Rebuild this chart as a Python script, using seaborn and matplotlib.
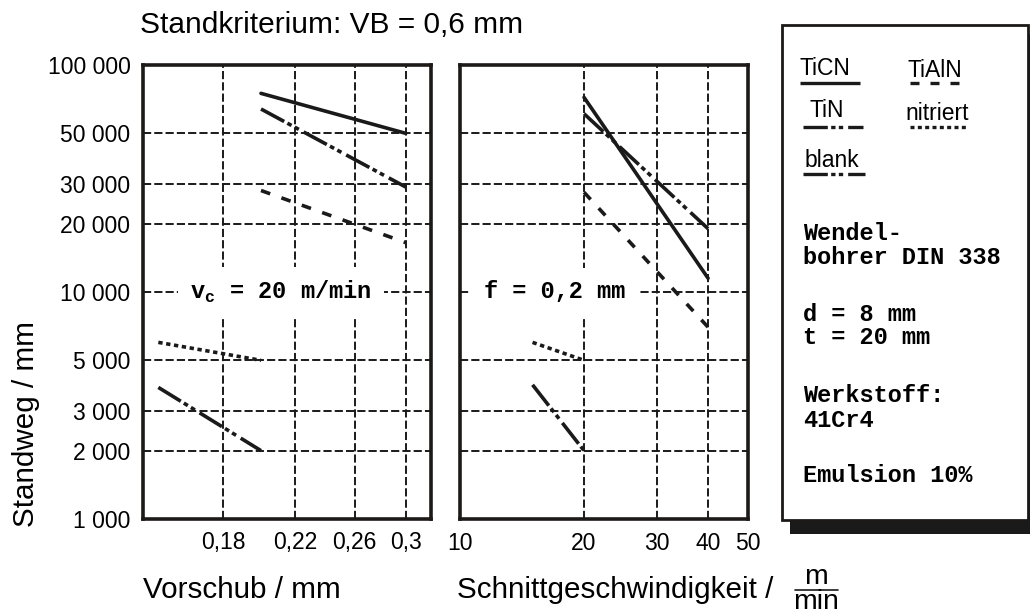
import matplotlib
matplotlib.use("Agg")
import matplotlib.pyplot as plt
from matplotlib.ticker import FixedLocator, FixedFormatter, NullLocator
from matplotlib.patches import Rectangle
import pandas as pd
import seaborn as sns

# -----------------------------
# DATA
# -----------------------------
coatings = ["TiCN", "TiN", "TiAlN", "nitriert", "blank"]

# Standweg over Vorschub, vc = 20 m/min
feed_ticn = [0.20, 0.30]
life_feed_ticn = [75000, 50000]
feed_tin = [0.20, 0.30]
life_feed_tin = [64000, 29000]
feed_tialn = [0.20, 0.30]
life_feed_tialn = [28000, 16500]
feed_nitriert = [0.15, 0.20]
life_feed_nitriert = [6000, 5000]
feed_blank = [0.15, 0.20]
life_feed_blank = [3800, 2000]

# Standweg over Schnittgeschwindigkeit, f = 0,2 mm
vc_ticn = [20, 40]
life_vc_ticn = [72000, 11500]
vc_tin = [20, 40]
life_vc_tin = [61000, 19000]
vc_tialn = [20, 40]
life_vc_tialn = [27500, 7000]
vc_nitriert = [15, 20]
life_vc_nitriert = [6000, 5000]
vc_blank = [15, 20]
life_vc_blank = [3900, 2000]

y_ticks = [1000, 2000, 3000, 5000, 10000, 20000, 30000, 50000, 100000]
y_labels = [f"{v:,}".replace(",", " ") for v in y_ticks]
feed_ticks = [0.18, 0.22, 0.26, 0.3]
feed_labels = ["0,18", "0,22", "0,26", "0,3"]
vc_ticks = [10, 20, 30, 40, 50]
vc_labels = ["10", "20", "30", "40", "50"]

info_lines = ["Wendel-", "bohrer DIN 338", "d = 8 mm", "t = 20 mm",
              "Werkstoff:", "41Cr4", "Emulsion 10%"]

# -----------------------------
# STYLE
# -----------------------------
sns.set_theme(style="white", rc={
    "text.color": "black", "axes.edgecolor": "black",
    "xtick.color": "black", "ytick.color": "black",
    "axes.labelcolor": "black",
})
plt.rcParams['font.family'] = ['Liberation Sans', 'DejaVu Sans']
plt.rcParams['mathtext.fontset'] = 'custom'
plt.rcParams['mathtext.rm'] = 'Liberation Mono:bold'

dash_codes = {
    "TiCN": "",
    "TiN": (7.3, 1, 1.3, 1, 1.3, 1.5),
    "TiAlN": (2.7, 3.3),
    "nitriert": (1.2, 1),
    "blank": (7.3, 1, 1.3, 1, 1.3, 1.5),
}
MONO = dict(family="Liberation Mono", weight="bold", fontsize=17)


def long_form(xs, ys):
    rows = []
    for name, x, y in zip(coatings, xs, ys):
        for xi, yi in zip(x, y):
            rows.append({"x": xi, "y": yi, "coating": name})
    return pd.DataFrame(rows)


feed_df = long_form(
    [feed_ticn, feed_tin, feed_tialn, feed_nitriert, feed_blank],
    [life_feed_ticn, life_feed_tin, life_feed_tialn, life_feed_nitriert, life_feed_blank])
vc_df = long_form(
    [vc_ticn, vc_tin, vc_tialn, vc_nitriert, vc_blank],
    [life_vc_ticn, life_vc_tin, life_vc_tialn, life_vc_nitriert, life_vc_blank])

# -----------------------------
# FIGURE
# -----------------------------
W, H = 1030, 616
fig = plt.figure(figsize=(W / 100, H / 100), dpi=100)
ax1 = fig.add_axes([143 / W, 1 - 519 / H, 288 / W, 454 / H])
ax2 = fig.add_axes([460 / W, 1 - 519 / H, 288 / W, 454 / H])

for ax, df, ticks, labels, lims in [
    (ax1, feed_df, feed_ticks, feed_labels, (0.1437, 0.322)),
    (ax2, vc_df, vc_ticks, vc_labels, (10, 50)),
]:
    ax.set_xscale("log")
    ax.set_yscale("log")
    sns.lineplot(data=df, x="x", y="y", style="coating", style_order=coatings,
                 dashes=dash_codes, color="k", lw=2.6, estimator=None,
                 legend=False, ax=ax)
    ax.set_xlim(*lims)
    ax.set_ylim(1000, 100000)
    ax.xaxis.set_major_locator(FixedLocator(ticks))
    ax.xaxis.set_major_formatter(FixedFormatter(labels))
    ax.xaxis.set_minor_locator(NullLocator())
    ax.yaxis.set_major_locator(FixedLocator(y_ticks))
    ax.yaxis.set_major_formatter(FixedFormatter(y_labels))
    ax.yaxis.set_minor_locator(NullLocator())
    ax.tick_params(length=0, labelsize=16.5, pad=9)
    ax.grid(True, color="k", lw=1.4, linestyle=(0, (4.2, 1.6)))
    ax.set_xlabel("")
    ax.set_ylabel("")
    for sp in ax.spines.values():
        sp.set_linewidth(2.6)
        sp.set_color("#1c1917")

ax2.tick_params(labelleft=False)

ax1.text(0.479, 0.5, r"v$_\mathrm{c}$ = 20 m/min", transform=ax1.transAxes,
         ha="center", va="center", zorder=3,
         bbox=dict(boxstyle="square,pad=0.5", fc="white", ec="none"), **MONO)
ax2.text(0.33, 0.5, "f = 0,2 mm", transform=ax2.transAxes,
         ha="center", va="center", zorder=3,
         bbox=dict(boxstyle="square,pad=0.55", fc="white", ec="none"), **MONO)

# -----------------------------
# OVERLAY (pixel coordinates): labels and info box
# -----------------------------
ov = fig.add_axes([0, 0, 1, 1])
ov.set_xlim(0, W)
ov.set_ylim(H, 0)
ov.axis("off")

ov.text(140, 33, "Standkriterium: VB = 0,6 mm", fontsize=21.5, va="baseline")
ov.text(26, 424, "Standweg / mm", fontsize=21.3, rotation=90, ha="center", va="center")
ov.text(143, 598, "Vorschub / mm", fontsize=21.3, va="baseline")
ov.text(457, 598, "Schnittgeschwindigkeit /", fontsize=21.3, va="baseline")
ov.text(816, 584, "m", fontsize=20.5, ha="center", va="baseline")
ov.plot([795, 838], [590, 590], color="k", lw=1.2)
ov.text(816, 609, "min", fontsize=20.5, ha="center", va="baseline")

# box with shadow
ov.add_patch(Rectangle((790, 34), 260, 500, fc="k", ec="none"))
ov.add_patch(Rectangle((782, 25), 246, 495, fc="white", ec="#1c1917", lw=2))

legend_items = [
    ("TiCN", 800, 75, (800, 860), 83),
    ("TiAlN", 907, 77, (910, 963), 83),
    ("TiN", 810, 117, (803, 863), 127),
    ("nitriert", 905, 120, (910, 967), 127),
    ("blank", 805, 167, (803, 865), 174),
]
for name, tx, ty, (x0, x1), ly in legend_items:
    ov.text(tx, ty, name, fontsize=16.5, va="baseline")
    code = dash_codes[name]
    ls = "-" if code == "" else (0, code)
    ov.plot([x0, x1], [ly, ly], color="k", lw=2.4, linestyle=ls,
            solid_capstyle="butt")

info_y = [240, 264, 321, 344, 402, 427, 482]
for line, yy in zip(info_lines, info_y):
    ov.text(803, yy, line, va="baseline", **MONO)

plt.savefig("out.png", dpi=100)
